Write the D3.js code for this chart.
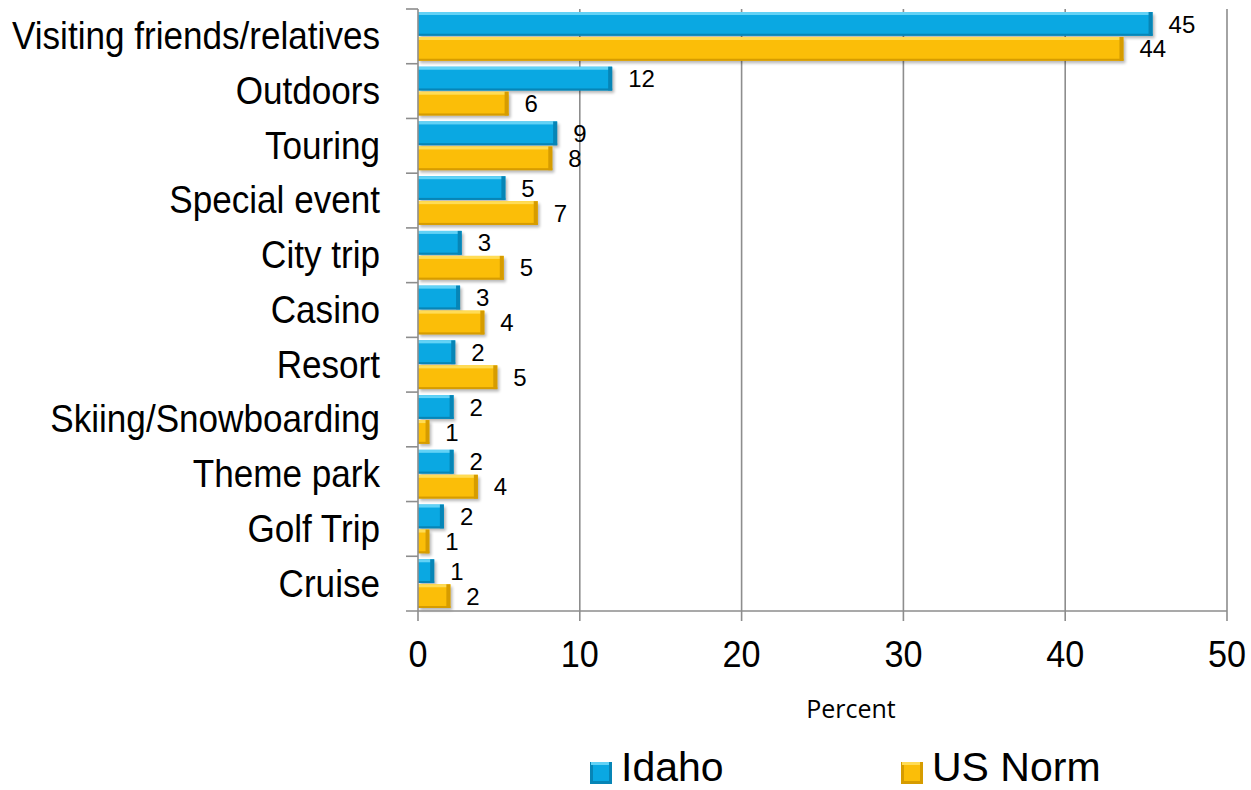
<!DOCTYPE html>
<html>
<head>
<meta charset="utf-8">
<script src="https://cdn.jsdelivr.net/npm/d3@7/dist/d3.min.js"></script>
<style>
  html, body { margin: 0; padding: 0; background: #fff; }
  svg { display: block; }
  text { font-family: "Liberation Sans", Arial, Helvetica, sans-serif; fill: #000; }
</style>
</head>
<body>
<svg id="chart" width="1251" height="790"></svg>
<script>
// Trip purpose shares (percent of trips)
const categories = ["Visiting friends/relatives", "Outdoors", "Touring", "Special event", "City trip",
  "Casino", "Resort", "Skiing/Snowboarding", "Theme park", "Golf Trip", "Cruise"];
const seriesNames = ["Idaho", "US Norm"];
const idahoValues  = [45.4, 12.0, 8.6, 5.4, 2.7, 2.6, 2.3, 2.2, 2.2, 1.6, 1.0];
const usNormValues = [43.6, 5.6, 8.3, 7.4, 5.3, 4.1, 4.9, 0.7, 3.7, 0.7, 2.0];
const xTicks = [0, 10, 20, 30, 40, 50];
const axisTitle = "Percent";

const palette = {
  "Idaho":   { base: "#0aa8e2", light: "#62d2f6", dark: "#0785b6" },
  "US Norm": { base: "#fbbe08", light: "#ffdc55", dark: "#d69c00" }
};

const svg = d3.select("#chart");
const plotLeft = 418, plotRight = 1227, plotTop = 9, plotBottom = 611;
const gridColor = "#8d8d8d";

const x = d3.scaleLinear().domain([0, 50]).range([plotLeft, plotRight]);
const y = d3.scaleBand().domain(categories).range([plotTop, plotBottom]).paddingInner(0).paddingOuter(0);
const ySub = d3.scaleBand().domain(seriesNames).range([3, y.bandwidth() - 3]).paddingInner(0.05);

const rows = categories.map((c, i) => ({ cat: c, values: [
  { series: "Idaho", value: idahoValues[i] },
  { series: "US Norm", value: usNormValues[i] }
]}));

// soft shadow under the bevelled bars
const defs = svg.append("defs");
const f = defs.append("filter").attr("id", "shadow").attr("x", "-10%").attr("y", "-30%")
  .attr("width", "130%").attr("height", "180%");
f.append("feGaussianBlur").attr("stdDeviation", 1.6);

// gridlines (extend slightly below the axis as tick marks)
svg.append("g")
  .selectAll("line").data(xTicks.slice(1)).join("line")
  .attr("x1", d => x(d)).attr("x2", d => x(d))
  .attr("y1", plotTop).attr("y2", plotBottom + 10)
  .attr("stroke", gridColor).attr("stroke-width", 1.6);

// value axis labels (slightly condensed face)
svg.append("g")
  .selectAll("text").data(xTicks).join("text")
  .attr("transform", d => `translate(${x(d)},667) scale(0.95,1)`)
  .attr("text-anchor", "middle")
  .style("font-size", "36px")
  .text(d => d);

svg.append("text")
  .attr("x", 851).attr("y", 718)
  .attr("text-anchor", "middle")
  .style("font-family", "'Open Sans', 'Noto Sans', sans-serif")
  .style("font-size", "25px")
  .text(axisTitle);

// bars
function bevelBar(g, x0, y0, w, h, col) {
  g.append("rect").attr("x", x0 + 2).attr("y", y0 + 2.5).attr("width", w).attr("height", h)
    .attr("fill", "#000").attr("opacity", 0.28).attr("filter", "url(#shadow)");
  g.append("rect").attr("x", x0).attr("y", y0).attr("width", w).attr("height", h).attr("fill", col.base);
  g.append("rect").attr("x", x0).attr("y", y0).attr("width", w).attr("height", Math.min(3, h)).attr("fill", col.light);
  g.append("rect").attr("x", x0).attr("y", y0 + h - 2).attr("width", w).attr("height", 2).attr("fill", col.dark);
  const ew = Math.min(4, w / 3);
  g.append("rect").attr("x", x0 + w - ew).attr("y", y0).attr("width", ew).attr("height", h).attr("fill", col.dark);
}

const barLayer = svg.append("g");
rows.forEach(r => {
  r.values.forEach(v => {
    const y0 = y(r.cat) + ySub(v.series);
    bevelBar(barLayer, x(0), y0, x(v.value) - x(0), ySub.bandwidth(), palette[v.series]);
  });
});

// data labels
const fmt = d3.format(".0f");
svg.append("g")
  .selectAll("g").data(rows).join("g")
  .selectAll("text").data(r => r.values.map(v => ({ ...v, cat: r.cat }))).join("text")
  .attr("x", d => x(d.value) + 16)
  .attr("y", d => y(d.cat) + ySub(d.series) + ySub.bandwidth() / 2)
  .attr("dy", "0.36em")
  .style("font-size", "24px")
  .text(d => fmt(d.value));

// category axis
const axisG = svg.append("g");
axisG.append("line").attr("x1", plotLeft).attr("x2", plotLeft).attr("y1", plotTop).attr("y2", plotBottom + 10)
  .attr("stroke", gridColor).attr("stroke-width", 1.6);
axisG.append("line").attr("x1", plotLeft - 12).attr("x2", plotRight).attr("y1", plotBottom).attr("y2", plotBottom)
  .attr("stroke", gridColor).attr("stroke-width", 1.6);
axisG.selectAll("line.sep").data(categories).join("line").attr("class", "sep")
  .attr("x1", plotLeft - 12).attr("x2", plotLeft)
  .attr("y1", d => y(d)).attr("y2", d => y(d))
  .attr("stroke", gridColor).attr("stroke-width", 1.6);
axisG.selectAll("text").data(categories).join("text")
  .attr("transform", d => `translate(380,${y(d) + y.bandwidth() / 2}) scale(0.9,1)`)
  .attr("dy", "0.33em")
  .attr("text-anchor", "end")
  .style("font-size", "39px")
  .text(d => d);

// legend
const legendItems = [
  { name: "Idaho", sx: 590, tx: 621 },
  { name: "US Norm", sx: 901, tx: 932 }
];
const lg = svg.append("g");
legendItems.forEach(it => {
  const col = palette[it.name];
  lg.append("rect").attr("x", it.sx).attr("y", 762).attr("width", 22).attr("height", 22).attr("fill", col.dark);
  lg.append("rect").attr("x", it.sx + 1).attr("y", 762).attr("width", 18).attr("height", 3).attr("fill", col.light);
  lg.append("rect").attr("x", it.sx + 3).attr("y", 765).attr("width", 16).attr("height", 16).attr("fill", col.base);
  lg.append("text").attr("x", it.tx).attr("y", 781).style("font-size", "41px").text(it.name);
});
</script>
</body>
</html>
